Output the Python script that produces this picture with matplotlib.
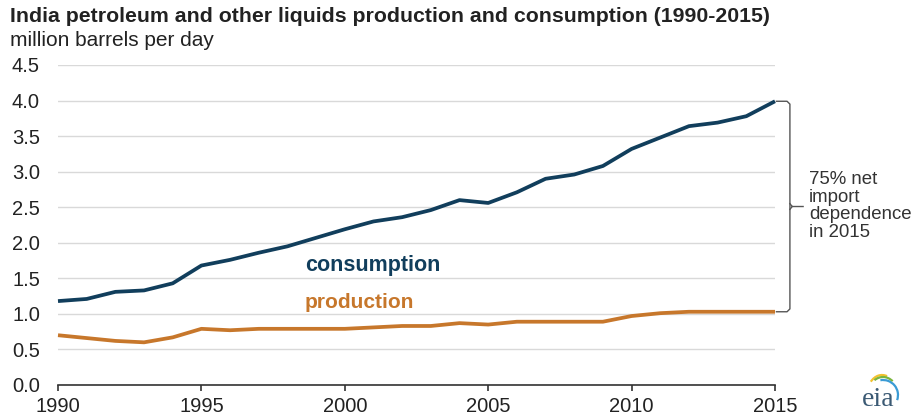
import matplotlib
matplotlib.use("Agg")
import matplotlib.pyplot as plt
from matplotlib.patches import Arc

plt.rcParams['font.family'] = ['Liberation Sans', 'DejaVu Sans']

years = list(range(1990, 2016))
consumption = [1.18, 1.21, 1.31, 1.33, 1.43, 1.68, 1.76, 1.86, 1.95, 2.07,
               2.19, 2.30, 2.36, 2.46, 2.60, 2.56, 2.71, 2.90, 2.96, 3.08,
               3.32, 3.48, 3.64, 3.69, 3.78, 3.99]
production = [0.70, 0.66, 0.62, 0.60, 0.67, 0.79, 0.77, 0.79, 0.79, 0.79,
              0.79, 0.81, 0.83, 0.83, 0.87, 0.85, 0.89, 0.89, 0.89, 0.89,
              0.97, 1.01, 1.03, 1.03, 1.03, 1.03]
yticks = [0.0, 0.5, 1.0, 1.5, 2.0, 2.5, 3.0, 3.5, 4.0, 4.5]
xticks = [1990, 1995, 2000, 2005, 2010, 2015]

c_cons = '#113e5c'
c_prod = '#c7772b'

fig = plt.figure(figsize=(9.12, 4.17), dpi=100)
ax = fig.add_axes([58/912, 1-385/417, (775-58)/912, (385-65)/417])
ax.set_xlim(1990, 2015)
ax.set_ylim(0, 4.5)

ax.plot(years, consumption, color=c_cons, lw=2.7, solid_capstyle='butt', zorder=3, clip_on=False)
ax.plot(years, production, color=c_prod, lw=2.7, solid_capstyle='butt', zorder=3, clip_on=False)

ax.set_yticks(yticks)
ax.set_yticklabels([f"{v:.1f}" for v in yticks])
ax.set_xticks(xticks)
ax.set_xticklabels([str(x) for x in xticks])
ax.grid(axis='y', color='#d9d9d9', lw=1.0)
ax.set_axisbelow(True)
for s in ['top', 'right', 'left']:
    ax.spines[s].set_visible(False)
ax.spines['bottom'].set_color('#333333')
ax.spines['bottom'].set_linewidth(1.2)
ax.tick_params(axis='y', length=0, pad=13, labelsize=14.5, labelcolor='#222222')
ax.tick_params(axis='x', length=4, width=1.2, color='#333333', pad=5, labelsize=14.5, labelcolor='#222222')

fig.text(305/912, 1-265/417, 'consumption', color=c_cons,
         fontsize=15.5, fontweight='bold', va='center', ha='left')
fig.text(305/912, 1-302/417, 'production', color=c_prod,
         fontsize=15, fontweight='bold', va='center', ha='left')

# bracket
top = consumption[-1]
bot = production[-1]
mid = (top + bot) / 2
bx = 2015.52
bcol = '#555555'
ax.plot([2015.05, bx - 0.1, bx, bx, bx - 0.1, 2015.05],
        [top, top, top - 0.04, bot + 0.04, bot, bot], color=bcol, lw=1, clip_on=False)
ax.plot([bx, bx + 0.08, 2015.98], [mid + 0.04, mid, mid], color=bcol, lw=1, clip_on=False)
ax.plot([bx, bx + 0.08], [mid - 0.04, mid], color=bcol, lw=1, clip_on=False)

fig.text(809/912, 1-206/417, '75% net\nimport\ndependence\nin 2015', color='#333333',
         fontsize=13.4, va='center', ha='left', linespacing=1.05)

fig.text(10/912, 1-17/417, 'India petroleum and other liquids production and consumption (1990-2015)',
         fontsize=15.3, fontweight='bold', color='#222222', va='center', ha='left')
fig.text(10/912, 1-40/417, 'million barrels per day', fontsize=15, color='#222222', va='center', ha='left')

# eia logo
fig.text(878/912, 1-399/417, 'eia', fontsize=20, family='Liberation Serif', color='#3b5a74',
         va='center', ha='center')
lax = fig.add_axes([855/912, 1-405/417, 50/912, 35/417])
lax.set_xlim(0, 50); lax.set_ylim(0, 35); lax.axis('off')
lax.add_patch(Arc((27, 10), 30, 40, theta1=75, theta2=130, color='#f2c230', lw=1.6))
lax.add_patch(Arc((28, 10), 30, 36, theta1=55, theta2=120, color='#7bb53e', lw=1.6))
lax.add_patch(Arc((28, 10), 30, 30, theta1=-20, theta2=100, color='#3a9bd5', lw=1.6))

fig.savefig('out.png', dpi=100)
